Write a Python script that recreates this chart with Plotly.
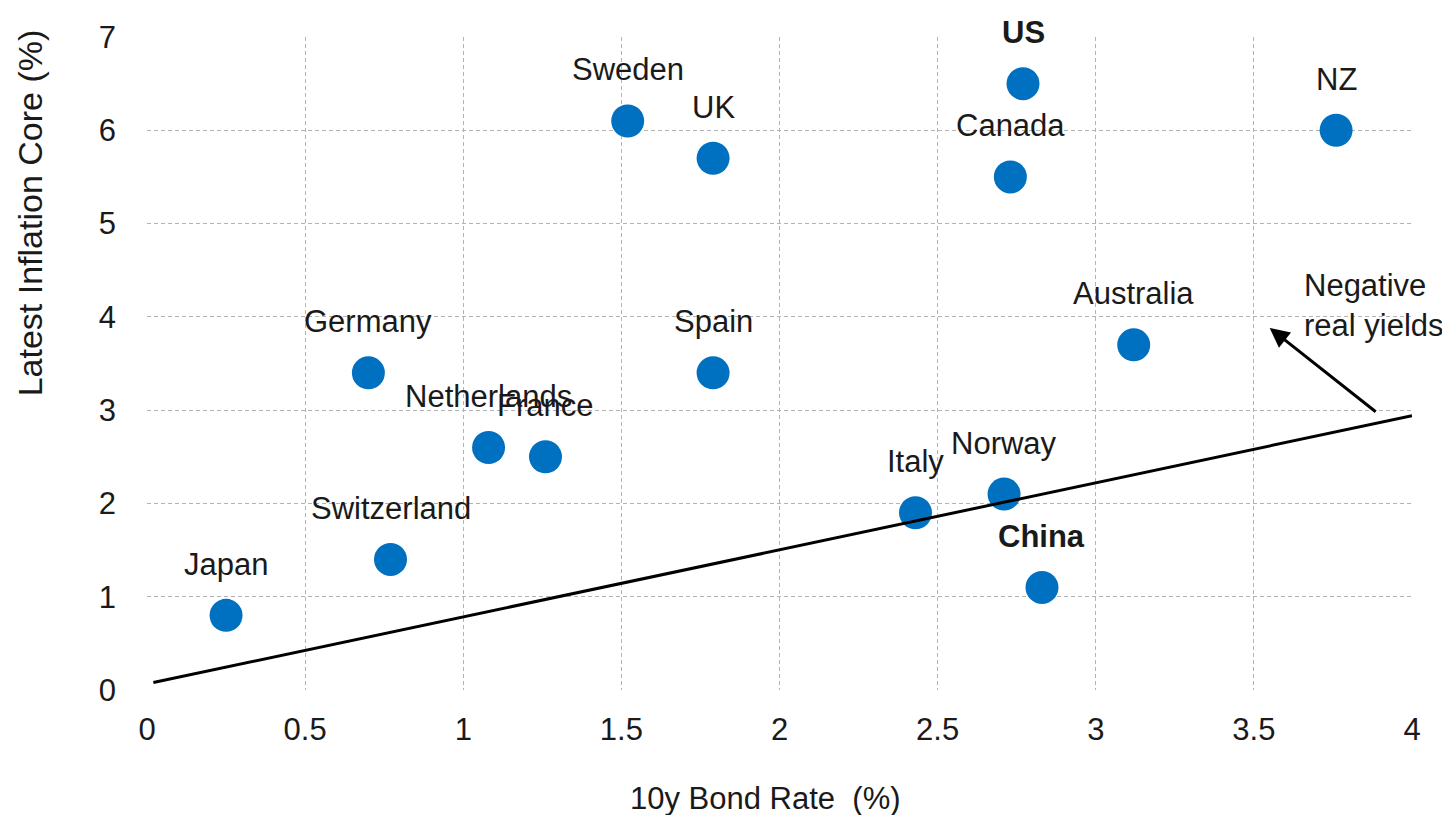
import plotly.graph_objects as go

countries = ["Japan", "Switzerland", "Germany", "Netherlands", "France", "Sweden", "UK",
             "Spain", "Italy", "Norway", "China", "Canada", "US", "Australia", "NZ"]
bond_rate = [0.25, 0.77, 0.70, 1.08, 1.26, 1.52, 1.79, 1.79, 2.43, 2.71, 2.83, 2.73, 2.77, 3.12, 3.76]
core_infl = [0.8, 1.4, 3.4, 2.6, 2.5, 6.1, 5.7, 3.4, 1.9, 2.1, 1.1, 5.5, 6.5, 3.7, 6.0]
bold = ["US", "China"]

line_x = [0.02, 4.0]
line_y = [0.08, 2.94]

arrow_tail = (3.89, 2.97)
arrow_head = (3.55, 3.88)

xticks = [0, 0.5, 1, 1.5, 2, 2.5, 3, 3.5, 4]
yticks = [0, 1, 2, 3, 4, 5, 6, 7]

FONT = "Liberation Sans, Arial, sans-serif"
TXT = "#1a1a1a"
FS = 31

# page body has an 8px margin; figure is shrunk so the plot lands where the reference has it
W, H = 1442, 807
L, R, T, B = 139, 38, 19, 125
OFF = 8

fig = go.Figure()
fig.add_trace(go.Scatter(
    x=bond_rate, y=core_infl, mode="markers",
    marker=dict(size=33, color="#0070C0", line=dict(width=0)),
    hoverinfo="text", text=countries, showlegend=False, cliponaxis=False,
))
fig.add_trace(go.Scatter(
    x=line_x, y=line_y, mode="lines",
    line=dict(color="black", width=3), showlegend=False, cliponaxis=False,
))

for c, xv, yv in zip(countries, bond_rate, core_infl):
    label = f"<b>{c}</b>" if c in bold else c
    fig.add_annotation(x=xv, y=yv, text=label, showarrow=False, yshift=51,
                       xanchor="center", yanchor="middle",
                       font=dict(size=FS, color=TXT, family=FONT))

fig.add_annotation(x=arrow_head[0], y=arrow_head[1], ax=arrow_tail[0], ay=arrow_tail[1],
                   axref="x", ayref="y", xref="x", yref="y", text="", showarrow=True,
                   arrowhead=2, arrowsize=1.3, arrowwidth=3, arrowcolor="black")
fig.add_annotation(x=3.652, y=4.12, xref="x", yref="y", text="Negative<br>real yields",
                   showarrow=False, xanchor="left", yanchor="middle", align="left",
                   font=dict(size=FS, color=TXT, family=FONT))

plot_w = W - L - R
plot_h = H - T - B


def px_to_paper(px, py):
    # px, py are page pixels
    return (px - OFF - L) / plot_w, (H - B - (py - OFF)) / plot_h


yx, yy = px_to_paper(30, 206)
fig.add_annotation(x=yx, y=yy, xref="paper", yref="paper", text="Latest Inflation Core (%)",
                   showarrow=False, textangle=-90, xanchor="center", yanchor="middle",
                   font=dict(size=34, color=TXT, family=FONT))
xx, xy = px_to_paper(765, 800)
fig.add_annotation(x=xx, y=xy, xref="paper", yref="paper", text="10y Bond Rate  (%)",
                   showarrow=False, xanchor="center", yanchor="middle",
                   font=dict(size=FS, color=TXT, family=FONT))

fig.update_layout(
    width=W, height=H,
    margin=dict(l=L, r=R, t=T, b=B),
    paper_bgcolor="white", plot_bgcolor="white",
    font=dict(family=FONT, size=FS, color=TXT),
)

fig.update_xaxes(range=[0, 4], tickvals=xticks, ticktext=[str(t) for t in xticks],
                 showgrid=True, gridcolor="#b3b3b3", griddash="4px,3px", gridwidth=1,
                 zeroline=False, showline=False, ticks="", ticklabelstandoff=18,
                 tickfont=dict(size=FS, color=TXT, family=FONT))
fig.update_yaxes(range=[0, 7], tickvals=yticks, ticktext=[str(t) for t in yticks],
                 showgrid=True, gridcolor="#b3b3b3", griddash="4px,3px", gridwidth=1,
                 zeroline=False, showline=False, ticks="", ticklabelstandoff=30,
                 tickfont=dict(size=FS, color=TXT, family=FONT))

fig.write_html("out.html")
